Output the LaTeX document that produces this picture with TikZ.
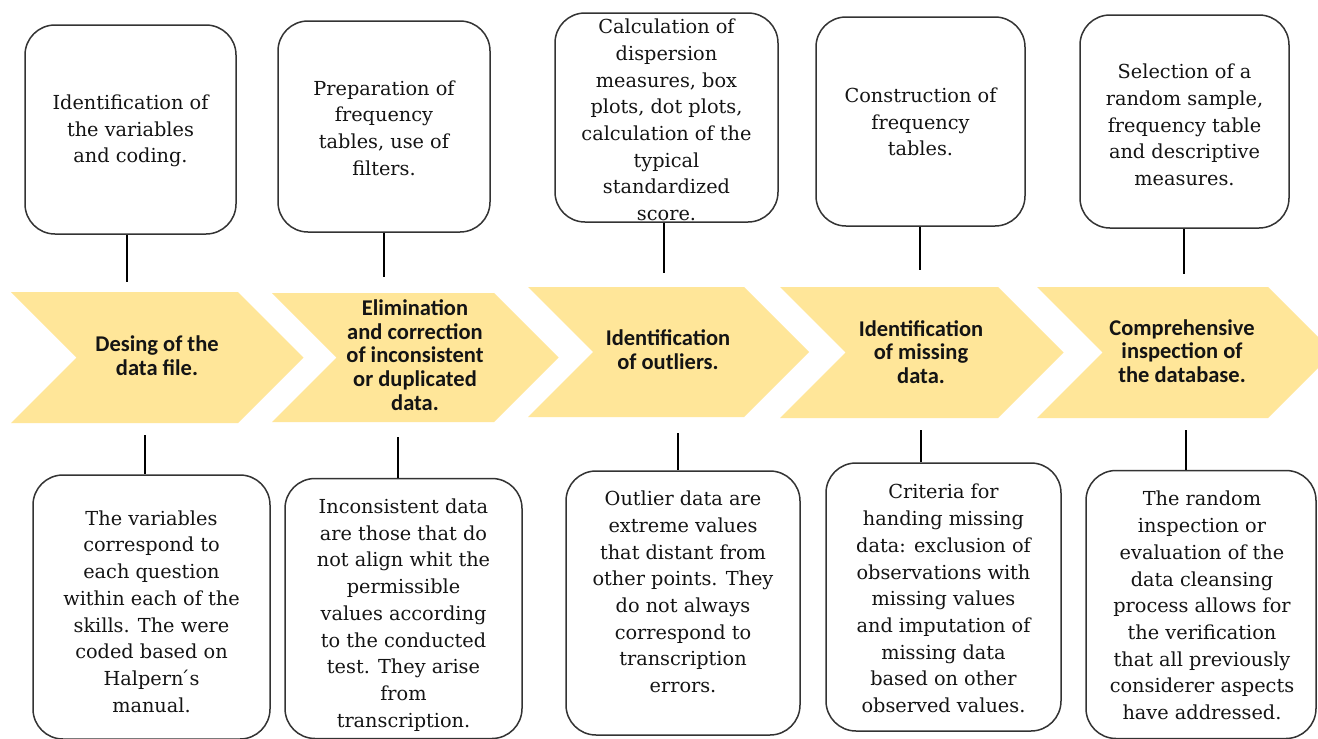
\documentclass[tikz,border=0pt]{standalone}
\usepackage{fontspec}
\setmainfont{DejaVu Serif}
\newfontfamily\chevfont{Carlito}
\definecolor{chevyellow}{HTML}{FFE699}
\definecolor{boxline}{HTML}{333333}
\definecolor{boxtext}{HTML}{141414}
\newcommand\drawchev[4]{% L, T, B, R
  \pgfmathsetmacro\chd{(#3-#2)/2}%
  \pgfmathsetmacro\chm{(#3+#2)/2}%
  \fill[chevyellow] (#1,#2) -- (#4,#2) -- ({#4+\chd},\chm) -- (#4,#3) -- (#1,#3) -- ({#1+\chd},\chm) -- cycle;}
\begin{document}
\begin{tikzpicture}[x=1pt,y=-1pt,
  infobox/.style={draw=boxline, line width=1.5pt, rounded corners=30pt, fill=white,
    inner sep=0pt, minimum width=#1},
  boxtxt/.style={align=center, text=boxtext, inner sep=0pt,
    font=\fontsize{19.3}{26.7}\selectfont},
  chevtxt/.style={align=center, text=black!92, inner sep=0pt,
    font=\chevfont\bfseries\fontsize{22.5}{23.8}\selectfont},
  link/.style={draw=black, line width=1.3pt}]
\useasboundingbox (0,0) rectangle (1318,739);
\clip (0,0) rectangle (1318,739);
\fill[white] (0,0) rectangle (1318,739);

% chevrons
\drawchev{11}{292}{423}{238}
\drawchev{272}{293}{422}{494}
\drawchev{528}{287}{417}{744}
\drawchev{780}{287}{418}{998}
\drawchev{1037}{287}{418}{1268}

\node[chevtxt] (c1) at (157,356) {Desing of the\\data file.};
\node[chevtxt] (c2) at (415,355) {Elimination\\and correction\\of inconsistent\\or duplicated\\data.};
\node[chevtxt] (c3) at (668,350) {Identification\\of outliers.};
\node[chevtxt] (c4) at (921,352) {Identification\\of missing\\data.};
\node[chevtxt] (c5) at (1182,351) {Comprehensive\\inspection of\\the database.};

% top boxes
\node[infobox=211pt, minimum height=209pt] (T1) at (130.5,129.5) {};
\node[infobox=212pt, minimum height=211pt] (T2) at (384,126.5) {};
\node[infobox=223pt, minimum height=209pt] (T3) at (666.5,117.5) {};
\node[infobox=209pt, minimum height=209pt] (T4) at (920.5,121.5) {};
\node[infobox=209pt, minimum height=213pt] (T5) at (1184.5,121.5) {};

\node[boxtxt] (T1t) at (130.5,131) {Identification of\\the variables\\and coding.};
\node[boxtxt] (T2t) at (384,128) {Preparation of\\frequency\\tables, use of\\filters.};
\node[boxtxt] (T3t) at (666.5,120) {Calculation of\\dispersion\\measures, box\\plots, dot plots,\\calculation of the\\typical\\standardized\\score.};
\node[boxtxt] (T4t) at (920.5,122) {Construction of\\frequency\\tables.};
\node[boxtxt] (T5t) at (1184.5,125) {Selection of a\\random sample,\\frequency table\\and descriptive\\measures.};

% bottom boxes
\node[infobox=237pt, minimum height=264pt] (B1) at (151.5,607) {};
\node[infobox=237pt, minimum height=260pt] (B2) at (403.5,608.5) {};
\node[infobox=234pt, minimum height=264pt] (B3) at (683,603) {};
\node[infobox=235pt, minimum height=268pt] (B4) at (943.5,597) {};
\node[infobox=230pt, minimum height=268pt] (B5) at (1201,604.5) {};

\node[boxtxt] (B1t) at (151.5,611.5) {The variables\\correspond to\\each question\\within each of the\\skills. The were\\coded based on\\Halpern\'{}s\\manual.};
\node[boxtxt] (B2t) at (403.5,615) {Inconsistent data\\are those that do\\not align whit the\\permissible\\values according\\to the conducted\\test. They arise\\from\\transcription.};
\node[boxtxt] (B3t) at (683,592) {Outlier data are\\extreme values\\that distant from\\other points. They\\do not always\\correspond to\\transcription\\errors.};
\node[boxtxt] (B4t) at (943.5,598.5) {Criteria for\\handing missing\\data: exclusion of\\observations with\\missing values\\and imputation of\\missing data\\based on other\\observed values.};
\node[boxtxt] (B5t) at (1202,605.5) {The random\\inspection or\\evaluation of the\\data cleansing\\process allows for\\the verification\\that all previously\\considerer aspects\\have addressed.};

% connector free ends
\coordinate (e1) at (127,282);
\coordinate (e2) at (384,277);
\coordinate (e3) at (664,273);
\coordinate (e4) at (920,270);
\coordinate (e5) at (1184,274);
\coordinate (f1) at (145,435);
\coordinate (f2) at (398,437);
\coordinate (f3) at (678,433);
\coordinate (f4) at (921,430);
\coordinate (f5) at (1186,430);

\foreach \i in {1,...,5}{
  \draw[link] (T\i.south -| e\i) -- (e\i);
  \draw[link] (f\i) -- (B\i.north -| f\i);
}
\end{tikzpicture}
\end{document}
